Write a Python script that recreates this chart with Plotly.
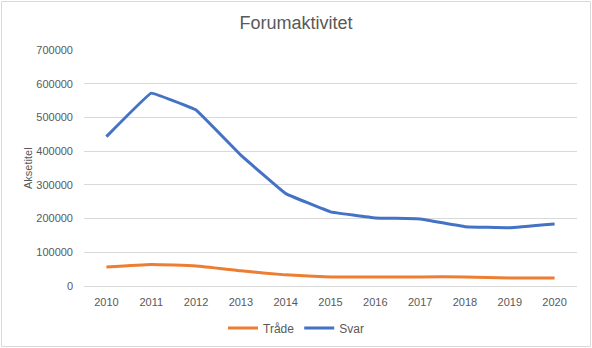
import plotly.graph_objects as go

years = ["2010", "2011", "2012", "2013", "2014", "2015", "2016", "2017", "2018", "2019", "2020"]
traade = [56000, 64000, 59000, 45000, 33000, 27000, 27000, 27000, 27000, 24000, 24000]
svar = [443000, 572000, 522000, 388000, 274000, 220000, 202000, 199000, 176000, 173000, 184000]
y_ticks = [0, 100000, 200000, 300000, 400000, 500000, 600000, 700000]

W, H = 592, 348
L, R, T, B = 84, 15, 50, 62
FONT = "Liberation Sans"
GREY = "#595959"

fig = go.Figure()
fig.add_trace(go.Scatter(x=years, y=traade, name="Tråde", mode="lines",
                         line=dict(color="#ED7D31", width=3, shape="spline", smoothing=0.4)))
fig.add_trace(go.Scatter(x=years, y=svar, name="Svar", mode="lines",
                         line=dict(color="#4472C4", width=3, shape="spline", smoothing=0.15)))

pw = W - L - R
ph = H - T - B
fig.update_layout(
    width=W, height=H,
    margin=dict(l=L, r=R, t=T, b=B, autoexpand=False),
    paper_bgcolor="white", plot_bgcolor="white",
    font=dict(family=FONT, size=11, color=GREY),
    title=dict(text="Forumaktivitet", x=0.5, xref="container", xanchor="center",
               y=1 - 23 / H, yref="container", yanchor="middle",
               font=dict(family=FONT, size=18, color=GREY)),
    showlegend=True,
    legend=dict(orientation="h", xref="container", yref="container",
                x=0.5, xanchor="center", y=1 - 328 / H, yanchor="middle",
                font=dict(family=FONT, size=12, color=GREY),
                itemwidth=30, tracegroupgap=0),
    xaxis=dict(type="category", range=[-0.5, len(years) - 0.5], showgrid=False,
               showline=True, linecolor="#d9d9d9", linewidth=1, ticks="",
               ticklabelstandoff=6, automargin=False,
               tickfont=dict(family=FONT, size=11, color=GREY), fixedrange=True),
    yaxis=dict(range=[0, 700000], tickvals=y_ticks, ticktext=[str(v) for v in y_ticks],
               showgrid=True, gridcolor="#d9d9d9", gridwidth=1, zeroline=False,
               showline=False, ticks="", ticklabelstandoff=10, automargin=False,
               tickfont=dict(family=FONT, size=11, color=GREY), fixedrange=True),
)

fig.add_annotation(text="Aksetitel", xref="paper", yref="paper",
                   x=(28 - L) / pw, y=(H - B - 168) / ph, textangle=-90,
                   showarrow=False, xanchor="center", yanchor="middle",
                   font=dict(family=FONT, size=11, color=GREY))

# outer chart border
fig.add_shape(type="rect", xref="paper", yref="paper",
              x0=(1.5 - L) / pw, x1=(590.5 - L) / pw,
              y0=(H - B - 346.5) / ph, y1=(H - B - 1.5) / ph,
              line=dict(color="#d9d9d9", width=1), fillcolor="rgba(0,0,0,0)", layer="below")

fig.write_html("out.html")
